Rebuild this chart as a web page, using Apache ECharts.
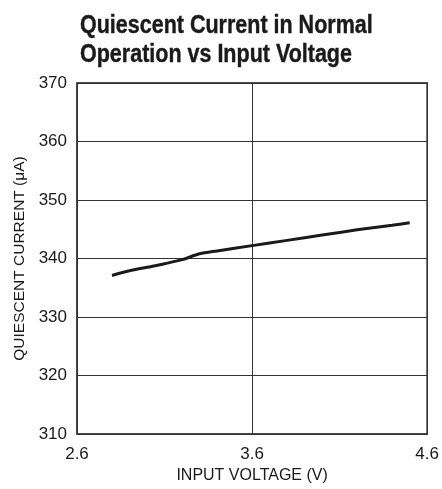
<!DOCTYPE html>
<html>
<head>
<meta charset="utf-8">
<script src="https://cdn.jsdelivr.net/npm/echarts@6/dist/echarts.min.js"></script>
<style>
html,body{margin:0;padding:0;background:#fff;}
#c{width:442px;height:489px;}
</style>
</head>
<body>
<div id="c"></div>
<script>
var titleLines = ['Quiescent Current in Normal', 'Operation vs Input Voltage'];
var xName = 'INPUT VOLTAGE (V)';
var yName = 'QUIESCENT CURRENT (\u03bcA)';
var voltage = [2.8, 2.9, 3.0, 3.1, 3.2, 3.3, 3.4, 3.6, 3.8, 4.0, 4.2, 4.4, 4.5];
var current = [337.1, 337.9, 338.5, 339.1, 339.8, 340.8, 341.3, 342.2, 343.1, 344.0, 344.9, 345.7, 346.1];
var xRange = [2.6, 4.6], xStep = 1;
var yRange = [310, 370], yStep = 10;

var FONT = '"Liberation Sans Narrow", "Liberation Sans", Arial, sans-serif';
var chart = echarts.init(document.getElementById('c'), null, {renderer: 'canvas'});
chart.setOption({
  animation: false,
  backgroundColor: '#fff',
  graphic: [{
    type: 'text', x: 80, y: 12, scaleX: 0.86, originX: 0, originY: 0,
    style: {text: titleLines.join('\n'), fontFamily: FONT, fontWeight: 'bold', fontSize: 25, lineHeight: 29, fill: '#1a1a1a', stroke: '#1a1a1a', lineWidth: 0.4}
  }],
  grid: {left: 77, right: 13, top: 83, bottom: 54, show: true, borderColor: '#111', borderWidth: 1.5, backgroundColor: 'transparent'},
  xAxis: {
    type: 'value', min: xRange[0], max: xRange[1], interval: xStep,
    name: xName, nameLocation: 'middle', nameGap: 34,
    nameTextStyle: {fontFamily: FONT, fontSize: 16, color: '#1a1a1a'},
    axisLine: {show: false}, axisTick: {show: false},
    axisLabel: {fontFamily: FONT, fontSize: 17, color: '#1a1a1a', margin: 12, formatter: function(v){return v.toFixed(1);}},
    splitLine: {show: true, lineStyle: {color: '#333', width: 1}}
  },
  yAxis: {
    type: 'value', min: yRange[0], max: yRange[1], interval: yStep,
    name: yName, nameLocation: 'middle', nameGap: 48, nameRotate: 90,
    nameTextStyle: {fontFamily: FONT, fontSize: 15.5, color: '#1a1a1a'},
    axisLine: {show: false}, axisTick: {show: false},
    axisLabel: {fontFamily: FONT, fontSize: 17, color: '#1a1a1a', margin: 10},
    splitLine: {show: true, lineStyle: {color: '#333', width: 1}}
  },
  series: [{
    type: 'line',
    data: voltage.map(function(v, i){ return [v, current[i]]; }),
    smooth: 0.3,
    showSymbol: false,
    lineStyle: {color: '#1a1a1a', width: 3}
  }]
});
</script>
</body>
</html>
